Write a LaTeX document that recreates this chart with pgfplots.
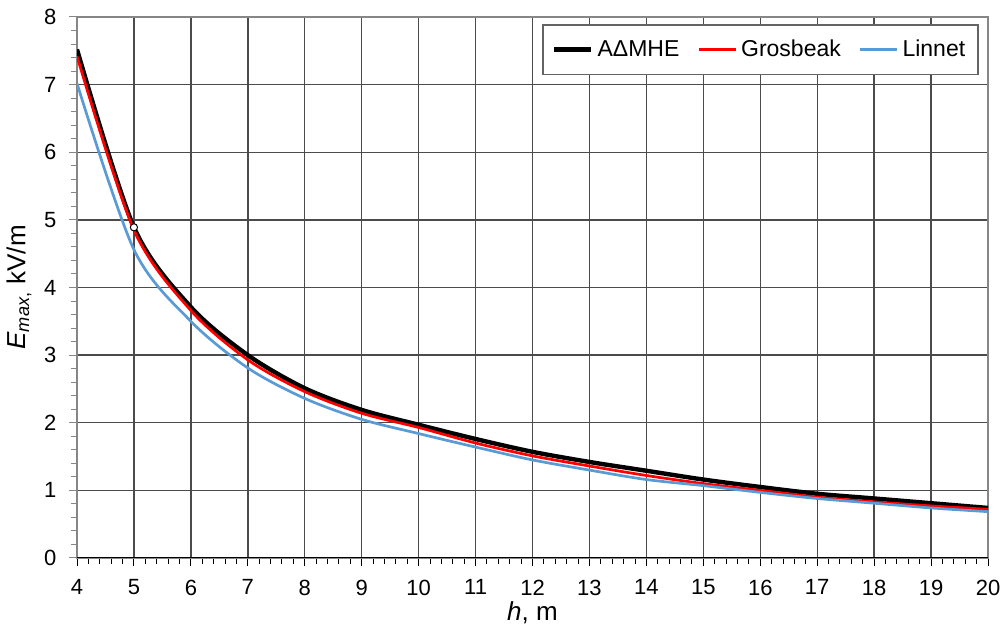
\documentclass[border=0pt]{standalone}
\usepackage{fontspec}
\setmainfont{Liberation Sans}
\usepackage{pgfplots}
\pgfplotsset{compat=1.18}
\definecolor{gridc}{RGB}{75,75,75}
\definecolor{framec}{RGB}{134,134,134}
\definecolor{lblue}{RGB}{91,155,213}
\definecolor{legc}{RGB}{100,100,100}
\begin{document}
\begin{tikzpicture}
\begin{axis}[
  scale only axis,
  width=455.5pt, height=270.5pt,
  xmin=4, xmax=20, ymin=0, ymax=8,
  xtick={4,5,...,20}, ytick={0,1,...,8},
  xtick pos=bottom, ytick pos=left,
  minor tick num=4,
  tick align=outside,
  major tick length=3.8pt, minor tick length=3pt,
  x tick style={black, line width=0.5pt},
  y tick style={framec, line width=0.5pt},
  axis line style={framec, line width=0.6pt},
  grid=major,
  major grid style={gridc, line width=0.7pt},
  /pgf/number format/assume math mode=true,
  tick label style={font=\fontsize{11}{13}\selectfont, black},
  xticklabel style={yshift=-3.5pt},
  yticklabel style={xshift=-3pt},
  xlabel={\textit{h}, m},
  ylabel={\textit{E}\textsubscript{\textit{max},} kV/m},
  label style={font=\fontsize{13}{15}\selectfont},
  xlabel style={at={(axis description cs:0.5,-0.1017)}, anchor=center},
  ylabel style={at={(axis description cs:-0.0637,0.5)}, anchor=center},
  legend columns=3,
  legend style={at={(1,1)}, anchor=north east, xshift=-4.5pt, yshift=-3.5pt,
    draw=legc, line width=0.8pt, fill=white,
    font=\fontsize{11.5}{13}\selectfont,
    inner xsep=4.5pt, inner ysep=5.5pt,
    /tikz/every even column/.append style={column sep=7pt}},
  legend image code/.code={\draw[#1] (0pt,0pt) -- (18.5pt,0pt);},
]
\draw[black, line width=0.6pt] (rel axis cs:0,0) -- (rel axis cs:1,0);
\addplot[black, line width=2.2pt, smooth] coordinates {
(4,7.52) (5,4.89) (6,3.71) (7,3.0) (8,2.51) (9,2.19) (10,1.97) (11,1.76) (12,1.57) (13,1.42)
(14,1.29) (15,1.16) (16,1.05) (17,0.95) (18,0.88) (19,0.81) (20,0.74)};
\addlegendentry{ΑΔΜΗΕ}
\addplot[red, line width=1.35pt, smooth] coordinates {
(4,7.42) (5,4.85) (6,3.66) (7,2.93) (8,2.46) (9,2.14) (10,1.93) (11,1.70) (12,1.51) (13,1.36)
(14,1.22) (15,1.10) (16,1.00) (17,0.90) (18,0.83) (19,0.77) (20,0.72)};
\addlegendentry{Grosbeak}
\addplot[lblue, line width=1.35pt, smooth] coordinates {
(4,7.02) (5,4.56) (6,3.50) (7,2.81) (8,2.36) (9,2.05) (10,1.84) (11,1.64) (12,1.45) (13,1.30)
(14,1.16) (15,1.07) (16,0.97) (17,0.88) (18,0.81) (19,0.74) (20,0.685)};
\addlegendentry{Linnet}
\addplot[only marks, mark=*, mark size=1.8pt, mark options={fill=white, draw=black, line width=0.5pt}, forget plot] coordinates {(5,4.89)};
\end{axis}
\pgfresetboundingbox
\path ([shift={(-38.5pt,-36pt)}]current axis.south west) rectangle ([shift={(7.5pt,8.5pt)}]current axis.north east);
\end{tikzpicture}
\end{document}
